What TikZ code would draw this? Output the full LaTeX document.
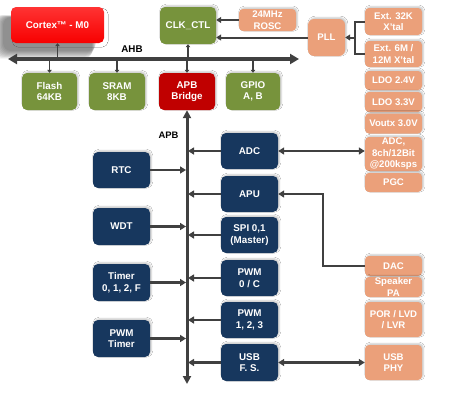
\documentclass[tikz,border=0pt]{standalone}
\usepackage{fontspec}
\setmainfont{Liberation Sans}
\usetikzlibrary{arrows.meta,shadows.blur}
\definecolor{navy}{HTML}{17375E}
\definecolor{olive}{HTML}{77933C}
\definecolor{salmon}{HTML}{EBA07A}
\definecolor{darkred}{HTML}{C00000}
\definecolor{wire}{HTML}{404040}
\tikzset{
  blk/.style={rounded corners=5pt, text=white, align=center,
    font=\fontsize{9.8}{11.5}\selectfont\bfseries, inner sep=0pt,
    blur shadow={shadow xshift=1.3pt, shadow yshift=1.3pt, shadow opacity=22, shadow blur radius=1.5pt}},
  bluebox/.style={blk, fill=navy, minimum width=57pt, minimum height=36pt},
  greenbox/.style={blk, fill=olive, minimum width=55pt, minimum height=37pt},
  redbox/.style={blk, fill=darkred, minimum width=56pt, minimum height=37pt},
  salbox/.style={blk, fill=salmon, minimum width=57pt, rounded corners=4pt,
    font=\fontsize{9.6}{11.6}\selectfont\bfseries},
  conn/.style={draw=wire, line width=2.4pt, -{Triangle[length=6pt,width=7pt]}},
  dconn/.style={draw=wire, line width=2.4pt, {Triangle[length=6pt,width=7pt]}-{Triangle[length=6pt,width=7pt]}},
  tiny/.style={draw=wire, line width=1.4pt, {Triangle[length=3pt,width=4.5pt]}-{Triangle[length=3pt,width=4.5pt]}},
  lbl/.style={font=\fontsize{9.8}{10}\selectfont\bfseries, text=black, inner sep=0pt},
  shadowlayer/.style={fill=black, fill opacity=0.06, draw=none},
}
\begin{document}
\begin{tikzpicture}[x=1pt,y=-1pt]
\useasboundingbox[fill=white] (0,0) rectangle (450,410);

% soft shadow of the CPU block (left and below)
\foreach \i in {0,1.2,...,9.6}
  \fill[shadowlayer, rounded corners=8pt] (3-\i,17-\i*0.2) rectangle (96-\i*0.4,51+\i*0.8);

% top row
\node[blk, minimum width=93pt, minimum height=36pt, top color=red!80!white, bottom color=red!97!black, blur shadow={shadow opacity=0}] (cortex) at (57.5,25) {Cortex™ - M0};
\node[greenbox, minimum width=56pt] (clk) at (188,25.5) {CLK\_CTL};
\node[salbox, minimum height=22pt] (rosc) at (267.5,20) {24MHz\\ROSC};
\node[salbox, minimum width=37pt, minimum height=37pt, rounded corners=6pt] (pll) at (326.5,37.5) {PLL};
\node[salbox, minimum height=27pt] (x32) at (393.5,21.5) {Ext. 32K\\X'tal};
\node[salbox, minimum height=26pt] (x6) at (393.5,54) {Ext. 6M /\\12M X'tal};
\node[salbox, minimum height=19pt] (ldo24) at (393.5,80.5) {LDO 2.4V};
\node[salbox, minimum height=20pt] (ldo33) at (393.5,102) {LDO 3.3V};
\node[salbox, minimum height=20pt] (vout) at (393.5,123.5) {Voutx 3.0V};
\node[salbox, minimum height=34pt] (adca) at (393.5,154) {ADC,\\8ch/12Bit\\@200ksps};
\node[salbox, minimum height=19pt] (pgc) at (393.5,182.5) {PGC};
\node[salbox, minimum height=20pt] (dac) at (393.5,266) {DAC};
\node[salbox, minimum height=20pt] (spk) at (393.5,287) {Speaker\\PA};
\node[salbox, minimum height=35pt] (por) at (393.5,319.5) {POR / LVD\\/ LVR};
\node[salbox, minimum height=35pt] (usbphy) at (393.5,362.5) {USB\\PHY};

% AHB row
\node[greenbox] (flash) at (49.5,91.5) {Flash\\64KB};
\node[greenbox, minimum width=56pt] (sram) at (117,91.5) {SRAM\\8KB};
\node[redbox] (apb) at (187,91.5) {APB\\Bridge};
\node[greenbox, minimum width=54pt] (gpio) at (253,91.5) {GPIO\\A, B};

% AHB bus
\coordinate (ahbL) at (8,59);
\coordinate (ahbR) at (299,59);
\draw[draw=wire, line width=3.8pt, {Triangle[length=9pt,width=10pt]}-{Triangle[length=9pt,width=10pt]}] (ahbL) -- (ahbR);
\node[lbl] (ahb) at (132,49) {AHB};

\draw[tiny] (cortex.south) -- ([yshift=-2pt]cortex.south |- ahbL);
\draw[tiny] (clk.south) -- ([yshift=-2pt]clk.south |- ahbL);
\draw[tiny] ([yshift=2pt]flash.north |- ahbL) -- (flash.north);
\draw[tiny] ([yshift=2pt]sram.north |- ahbL) -- (sram.north);
\draw[tiny] ([yshift=2pt]apb.north |- ahbL) -- (apb.north);
\draw[tiny] ([yshift=2pt]gpio.north |- ahbL) -- (gpio.north);

% clock connections
\draw[conn, line width=2pt, -{Triangle[length=5pt,width=6pt]}] (rosc.west) -- (rosc.west -| clk.east);
\draw[conn, line width=2pt, -{Triangle[length=5pt,width=6pt]}] (pll.west) -- (pll.west -| clk.east);
\coordinate (brk) at (355,37.5);
\draw[draw=wire, line width=2pt] (x32.west) -| (brk) |- (x6.west);
\draw[conn, line width=2pt, -{Triangle[length=5pt,width=6pt]}] (brk) -- (pll.east);

% APB bus
\coordinate (apbB) at (187,384);
\draw[draw=wire, line width=3pt, {Triangle[length=8pt,width=8pt]}-{Triangle[length=8pt,width=8pt]}] (apb.south) -- (apbB);
\node[lbl, font=\fontsize{9.4}{10}\selectfont\bfseries] (apblbl) at (168.5,135) {APB};

% left peripherals
\node[bluebox] (rtc) at (121.5,170) {RTC};
\node[bluebox, minimum height=37pt] (wdt) at (121.5,226.5) {WDT};
\node[bluebox, minimum height=37pt] (tmr) at (121.5,282.5) {Timer\\0, 1, 2, F};
\node[bluebox, minimum height=37pt] (pwmt) at (121.5,338.5) {PWM\\Timer};
\foreach \n in {rtc,wdt,tmr,pwmt}
  \draw[conn] (\n.east) -- ([xshift=-1pt]\n.east -| apbB);

% right peripherals
\node[bluebox] (adc) at (249.5,151) {ADC};
\node[bluebox] (apu) at (249.5,194) {APU};
\node[bluebox] (spi) at (249.5,235) {SPI 0,1\\(Master)};
\node[bluebox] (pwm0) at (249.5,278) {PWM\\0 / C};
\node[bluebox] (pwm1) at (249.5,320) {PWM\\1, 2, 3};
\node[bluebox, minimum height=37pt] (usb) at (249.5,362.5) {USB\\F. S.};
\foreach \n in {adc,apu,spi,pwm0,pwm1,usb}
  \draw[conn] (\n.west) -- ([xshift=1pt]\n.west -| apbB);

% analog links
\draw[dconn] (adc.east) -- (adc.east -| adca.west);
\draw[conn] (dac.west) -- ++(-42,0) |- (apu.east);
\draw[dconn] (usb.east) -- (usb.east -| usbphy.west);
\end{tikzpicture}
\end{document}
